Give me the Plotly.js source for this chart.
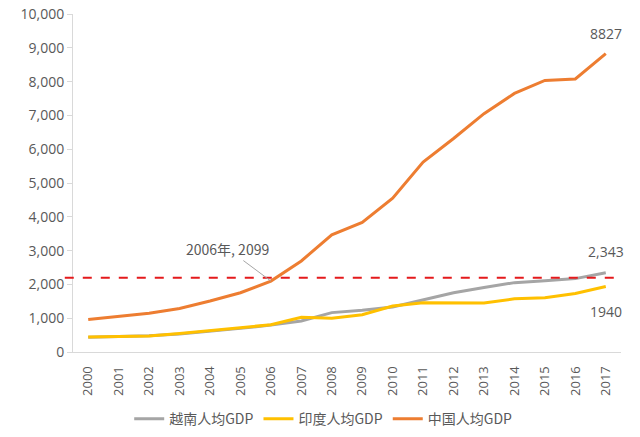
<!DOCTYPE html>
<html>
<head>
<meta charset="utf-8">
<script src="https://cdn.plot.ly/plotly-3.0.1.min.js"></script>
<style>html,body{margin:0;padding:0;background:#fff;}#chart{width:640px;height:437px;}</style>
</head>
<body>
<div id="chart"></div>
<script>
const years = ["2000","2001","2002","2003","2004","2005","2006","2007","2008","2009","2010","2011","2012","2013","2014","2015","2016","2017"];
const vietnamGDP = [433,451,479,534,606,699,797,919,1165,1232,1334,1543,1755,1908,2052,2111,2171,2343];
const indiaGDP = [443,452,471,547,628,714,806,1028,999,1102,1358,1458,1444,1450,1574,1606,1733,1940];
const chinaGDP = [959,1053,1149,1289,1509,1753,2099,2694,3468,3832,4550,5618,6317,7051,7651,8033,8079,8827];
const seriesNames = ["越南人均GDP","印度人均GDP","中国人均GDP"];
const refLine = 2200;
const yTicks = [0,1000,2000,3000,4000,5000,6000,7000,8000,9000,10000];
const yTickText = ["0","1,000","2,000","3,000","4,000","5,000","6,000","7,000","8,000","9,000","10,000"];

const cjk = "Noto Sans CJK SC, Noto Sans, sans-serif";
const num = "Open Sans, Noto Sans CJK SC, sans-serif";
const txt = "#595959";

const traces = [
  {x: years, y: vietnamGDP, name: seriesNames[0], type: "scatter", mode: "lines", line: {color: "#A5A5A5", width: 3}},
  {x: years, y: indiaGDP, name: seriesNames[1], type: "scatter", mode: "lines", line: {color: "#FFC000", width: 3}},
  {x: years, y: chinaGDP, name: seriesNames[2], type: "scatter", mode: "lines", line: {color: "#ED7D31", width: 3}}
];

const last = years.length - 1;
const layout = {
  width: 640, height: 437,
  margin: {l: 73, r: 19, t: 14, b: 85},
  paper_bgcolor: "#fff", plot_bgcolor: "#fff",
  font: {family: cjk, color: txt, size: 12},
  showlegend: true,
  legend: {orientation: "h", x: 0.505, xanchor: "center", xref: "container", yref: "container", y: 0.041, yanchor: "middle",
           font: {family: cjk, size: 14, color: txt}, itemwidth: 30},
  xaxis: {type: "category", range: [-0.5, 17.5], tickangle: -90, showgrid: false, zeroline: false, automargin: false,
          showline: true, linecolor: "#D9D9D9", linewidth: 1, ticks: "", ticklabelstandoff: 8,
          tickfont: {family: num, size: 13, color: txt}},
  yaxis: {range: [0, 10000], tickvals: yTicks, ticktext: yTickText, showgrid: false, zeroline: false, automargin: false,
          showline: true, linecolor: "#D9D9D9", linewidth: 1, ticks: "outside", ticklen: 5, tickcolor: "#D9D9D9",
          tickfont: {family: num, size: 14, color: txt}},
  shapes: [
    {type: "line", xref: "paper", x0: -0.015, x1: 1.0, yref: "y", y0: refLine, y1: refLine,
     line: {color: "#E41A1C", width: 2, dash: "dash"}}
  ],
  annotations: [
    {xref: "x", yref: "y", x: last, y: chinaGDP[last], text: String(chinaGDP[last]), showarrow: false, yshift: 20, font: {family: num, size: 14, color: txt}},
    {xref: "x", yref: "y", x: last, y: vietnamGDP[last], text: vietnamGDP[last].toLocaleString("en-US"), showarrow: false, yshift: 21, font: {family: num, size: 14, color: txt}},
    {xref: "x", yref: "y", x: last, y: indiaGDP[last], text: String(indiaGDP[last]), showarrow: false, yshift: -25, font: {family: num, size: 14, color: txt}},
    {xref: "x", yref: "y", x: 6, y: chinaGDP[6], text: years[6] + "年, " + chinaGDP[6], showarrow: true, arrowhead: 0, arrowwidth: 1, arrowcolor: "#A5A5A5",
     ax: -43, ay: -32, standoff: 0, font: {family: cjk, size: 14, color: txt}}
  ]
};

Plotly.newPlot("chart", traces, layout, {displayModeBar: false, staticPlot: true});
</script>
</body>
</html>
